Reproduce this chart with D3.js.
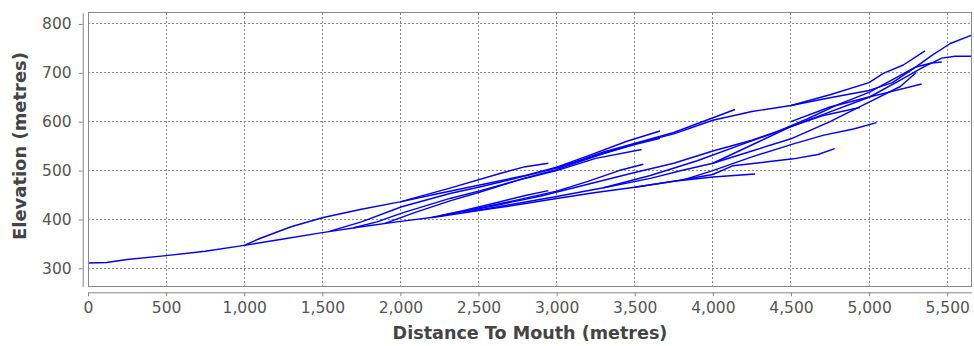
<!DOCTYPE html>
<html><head><meta charset="utf-8">
<script src="https://cdn.jsdelivr.net/npm/d3@7"></script>
<style>body{margin:0;background:#fff}</style></head>
<body>
<svg id="c" width="974" height="346"></svg>
<script>
// ---- axis ticks ----
const xTicks = [0,500,1000,1500,2000,2500,3000,3500,4000,4500,5000,5500];
const yTicks = [300,400,500,600,700,800];
const xDomain = [0,5657];
const yDomain = [262.4,823];
const xTitle = "Distance To Mouth (metres)";
const yTitle = "Elevation (metres)";

// ---- profiles: [distance to mouth, elevation] ----
const trunk = [[0,311],[120,312],[250,318],[500,326],[750,335],[1000,347],[1250,360],[1500,373],[1750,385],[2000,396],[2250,406],[2500,418],[2750,430],[3000,443],[3250,455],[3500,466],[3750,478],[4000,487],[4270,493]];
const upperTop = [[1000,347],[1100,361],[1300,385],[1506,404],[1750,421],[1997,436],[2317,464],[2637,494],[2800,508],[2947,515]];
const upperMain = [[1550,376],[1750,395],[2008,426],[2317,453],[2500,466],[2750,485],[3000,505],[3250,530],[3500,555],[3750,575],[4000,603],[4250,621],[4500,633],[4750,649],[5000,664],[5150,680],[5300,712],[5400,735],[5520,760],[5657,777]];
const upperA = [[1700,383],[1850,395],[2008,413],[2317,443],[2500,458],[2750,480],[3000,500],[3250,525],[3544,543]];
const upperB = [[1900,392],[2100,415],[2317,438],[2500,455],[2800,485],[3000,502],[3300,535],[3500,553],[3662,566]];
const upperC = [[2000,436],[2200,450],[2500,470],[2800,490],[3000,507],[3200,530],[3450,560],[3662,581]];
const upperD = [[3000,505],[3300,538],[3550,560],[3750,578],[3950,602],[4142,625]];
const lowerA = [[2200,404],[2400,418],[2600,433],[2800,449],[2947,459]];
const lowerB = [[2250,407],[2500,423],[2750,440],[3000,458],[3200,478],[3400,500],[3555,513]];
const lowerC = [[2300,410],[2600,428],[2900,448],[3200,472],[3500,496],[3750,515],[4000,540],[4250,562],[4500,590],[4750,620],[5000,650],[5200,685],[5350,712],[5465,730],[5550,734],[5657,734]];
const lowerD = [[2400,414],[2700,430],[3000,447],[3300,465],[3600,484],[3800,500],[4000,515],[4250,540],[4500,565],[4750,600],[5000,640],[5200,672],[5300,700]];
const lowerE = [[3500,466],[3750,478],[4000,492],[4130,510],[4350,518],[4515,524],[4673,533],[4780,545]];
const lowerF = [[3800,480],[4000,500],[4250,528],[4500,553],[4704,572],[4900,585],[5048,598]];
const lowerG = [[4000,515],[4300,560],[4500,590],[4700,612],[4942,629]];
const lowerH = [[4500,600],[4750,630],[5006,651],[5134,661],[5337,677]];
const lowerI = [[3300,465],[3600,490],[3900,520],[4200,555],[4400,578],[4600,605],[4800,635],[5000,660],[5200,695],[5300,712],[5400,720],[5465,722]];
const topEnd = [[4500,633],[4750,655],[5000,680],[5091,699],[5219,716],[5358,745]];

const profiles = [trunk, upperTop, upperMain, upperA, upperB, upperC, upperD,
  lowerA, lowerB, lowerC, lowerD, lowerE, lowerF, lowerG, lowerH, lowerI, topEnd];

// ---- layout ----
const svg = d3.select("#c");
const L = 88, R = 971.7, T = 12.7, B = 286.7;
const x = d3.scaleLinear().domain(xDomain).range([L, R]);
const y = d3.scaleLinear().domain(yDomain).range([B, T]);

// plot background and grid
svg.append("rect").attr("x",L).attr("y",T).attr("width",R-L).attr("height",B-T)
  .attr("fill","#fff");
const grid = svg.append("g").attr("stroke","#8a8a8a").attr("stroke-width",1)
  .attr("stroke-dasharray","2,2").attr("shape-rendering","crispEdges");
grid.selectAll("line.v").data(xTicks).join("line").attr("class","v")
  .attr("x1",d=>x(d)).attr("x2",d=>x(d)).attr("y1",T).attr("y2",B);
grid.selectAll("line.h").data(yTicks).join("line").attr("class","h")
  .attr("y1",d=>y(d)).attr("y2",d=>y(d)).attr("x1",L).attr("x2",R);

// lines
svg.append("clipPath").attr("id","clip").append("rect")
  .attr("x",L).attr("y",T).attr("width",R-L).attr("height",B-T);
const line = d3.line().x(d=>x(d[0])).y(d=>y(d[1]));
svg.append("g").attr("clip-path","url(#clip)")
  .selectAll("path").data(profiles).join("path")
  .attr("d",line).attr("fill","none").attr("stroke","#0000ff")
  .attr("stroke-width",1.45).attr("stroke-linejoin","round");

// plot border
svg.append("rect").attr("x",L).attr("y",T).attr("width",R-L).attr("height",B-T)
  .attr("fill","none").attr("stroke","#8a8a8a").attr("stroke-width",1)
  .attr("shape-rendering","crispEdges");

// axes
const font = "DejaVu Sans, Verdana, sans-serif";
const yAx = svg.append("g").attr("transform",`translate(82.7,0)`)
  .call(d3.axisLeft(y).tickValues(yTicks).tickSize(4).tickSizeOuter(0).tickPadding(7));
const xAx = svg.append("g").attr("transform",`translate(0,292.3)`)
  .call(d3.axisBottom(x).tickValues(xTicks).tickFormat(d3.format(",")).tickSize(4).tickSizeOuter(0).tickPadding(6));
[yAx,xAx].forEach(g=>{
  g.select(".domain").attr("stroke","#888");
  g.selectAll(".tick line").attr("stroke","#888");
  g.selectAll(".tick text").attr("fill","#555").style("font-family",font).style("font-size","15.5px");
});

// titles
function fit(t, w){
  const n = t.node().getComputedTextLength();
  const fs = parseFloat(t.style("font-size"));
  t.style("font-size",(fs*w/n)+"px");
}
const xt = svg.append("text").attr("x",530).attr("y",339).attr("text-anchor","middle")
  .attr("fill","#444").style("font-family",font).style("font-weight","bold").style("font-size","16px")
  .text(xTitle);
fit(xt,275);
const yt = svg.append("text").attr("transform","translate(26,146) rotate(-90)").attr("text-anchor","middle")
  .attr("fill","#444").style("font-family",font).style("font-weight","bold").style("font-size","16px")
  .text(yTitle);
fit(yt,188);
</script>
</body></html>
